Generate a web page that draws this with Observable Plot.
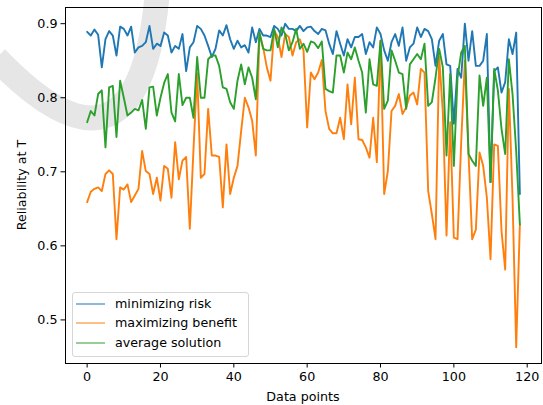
<!DOCTYPE html>
<html>
<head>
<meta charset="utf-8">
<script src="https://cdn.jsdelivr.net/npm/d3@7"></script>
<script src="https://cdn.jsdelivr.net/npm/@observablehq/plot@0.6"></script>
<style>
html, body { margin: 0; padding: 0; background: #fff; }
#wrap { position: relative; width: 543px; height: 405px; overflow: hidden; font-family: "DejaVu Sans", sans-serif; color: #000; background: #fff; }
#chart { position: absolute; left: 0; top: 0; }
.lbl { position: absolute; font-size: 12.7px; white-space: nowrap; line-height: 1; }
#ylabel { left: 22px; top: 185px; transform: translate(-50%, -50%) rotate(-90deg); }
#xlabel { left: 303px; top: 397px; transform: translate(-50%, -50%); }
#legend { position: absolute; left: 72px; top: 292px; width: 177px; height: 65px; border: 1px solid #d6d6d6; border-radius: 3px; background: rgba(255,255,255,0.8); box-sizing: border-box; }
.row { position: absolute; left: 0; height: 0; }
.swatch { position: absolute; left: 3px; width: 29px; height: 0; border-top: 1.9px solid; transform: translateY(-50%); }
.ltext { position: absolute; left: 42px; font-size: 12.7px; white-space: nowrap; transform: translateY(-50%); line-height: 1; }
</style>
</head>
<body>
<div id="wrap">
  <div id="chart"></div>
  <div class="lbl" id="ylabel">Reliability at T</div>
  <div class="lbl" id="xlabel">Data points</div>
  <div id="legend"></div>
</div>
<script>
const seriesNames = ["minimizing risk", "maximizing benefit", "average solution"];
const seriesColors = ["#1f77b4", "#ff7f0e", "#2ca02c"];
const xTicks = [0, 20, 40, 60, 80, 100, 120];
const yTicks = [0.5, 0.6, 0.7, 0.8, 0.9];

const minimizingRisk = [
  0.889, 0.884, 0.892, 0.885, 0.841, 0.879, 0.890, 0.884, 0.857, 0.896,
  0.893, 0.884, 0.896, 0.861, 0.868, 0.870, 0.875, 0.897, 0.866, 0.873,
  0.870, 0.888, 0.884, 0.861, 0.870, 0.866, 0.886, 0.836, 0.868, 0.875,
  0.897, 0.893, 0.884, 0.870, 0.855, 0.866, 0.891, 0.884, 0.898, 0.879,
  0.866, 0.877, 0.868, 0.871, 0.861, 0.895, 0.875, 0.893, 0.884, 0.884,
  0.882, 0.897, 0.893, 0.884, 0.900, 0.893, 0.893, 0.890, 0.897, 0.890,
  0.895, 0.896, 0.890, 0.886, 0.893, 0.891, 0.873, 0.859, 0.890, 0.873,
  0.857, 0.879, 0.868, 0.882, 0.882, 0.886, 0.859, 0.875, 0.868, 0.895,
  0.886, 0.864, 0.850, 0.875, 0.886, 0.870, 0.895, 0.850, 0.868, 0.873,
  0.895, 0.882, 0.893, 0.890, 0.879, 0.843, 0.877, 0.886, 0.845, 0.843,
  0.765, 0.839, 0.827, 0.900, 0.850, 0.890, 0.843, 0.843, 0.850, 0.886,
  0.686, 0.836, 0.841, 0.807, 0.821, 0.879, 0.859, 0.888, 0.670
];

const maximizingBenefit = [
  0.659, 0.673, 0.677, 0.679, 0.674, 0.697, 0.702, 0.697, 0.609, 0.679,
  0.676, 0.683, 0.659, 0.668, 0.677, 0.728, 0.701, 0.697, 0.670, 0.692,
  0.661, 0.708, 0.704, 0.665, 0.740, 0.690, 0.715, 0.720, 0.623, 0.730,
  0.833, 0.692, 0.697, 0.785, 0.722, 0.722, 0.720, 0.652, 0.737, 0.670,
  0.692, 0.708, 0.755, 0.800, 0.787, 0.769, 0.722, 0.886, 0.868, 0.841,
  0.823, 0.891, 0.882, 0.855, 0.886, 0.882, 0.857, 0.875, 0.879, 0.864,
  0.760, 0.834, 0.825, 0.834, 0.851, 0.782, 0.758, 0.752, 0.752, 0.773,
  0.744, 0.818, 0.764, 0.827, 0.744, 0.743, 0.733, 0.719, 0.773, 0.713,
  0.877, 0.670, 0.701, 0.782, 0.789, 0.805, 0.778, 0.787, 0.803, 0.807,
  0.791, 0.839, 0.834, 0.674, 0.643, 0.609, 0.855, 0.780, 0.614, 0.767,
  0.611, 0.609, 0.740, 0.850, 0.724, 0.609, 0.622, 0.726, 0.708, 0.665,
  0.582, 0.737, 0.735, 0.620, 0.568, 0.812, 0.665, 0.463, 0.629
];

const averageSolution = [
  0.767, 0.782, 0.776, 0.805, 0.810, 0.733, 0.814, 0.816, 0.747, 0.823,
  0.800, 0.776, 0.780, 0.785, 0.783, 0.797, 0.758, 0.814, 0.815, 0.776,
  0.800, 0.820, 0.832, 0.780, 0.768, 0.832, 0.790, 0.800, 0.800, 0.773,
  0.855, 0.800, 0.800, 0.852, 0.857, 0.857, 0.843, 0.814, 0.812, 0.794,
  0.785, 0.823, 0.845, 0.818, 0.841, 0.827, 0.798, 0.888, 0.866, 0.864,
  0.864, 0.893, 0.868, 0.895, 0.886, 0.864, 0.875, 0.893, 0.866, 0.873,
  0.862, 0.876, 0.874, 0.867, 0.876, 0.812, 0.809, 0.807, 0.857, 0.857,
  0.834, 0.861, 0.852, 0.868, 0.850, 0.834, 0.780, 0.852, 0.818, 0.816,
  0.877, 0.785, 0.796, 0.864, 0.850, 0.834, 0.832, 0.785, 0.845, 0.852,
  0.859, 0.852, 0.873, 0.789, 0.794, 0.827, 0.866, 0.841, 0.722, 0.832,
  0.708, 0.827, 0.861, 0.870, 0.724, 0.715, 0.708, 0.830, 0.789, 0.827,
  0.686, 0.839, 0.810, 0.758, 0.724, 0.852, 0.805, 0.728, 0.629
];

const seriesValues = [minimizingRisk, maximizingBenefit, averageSolution];

const rows = seriesValues.flatMap((vals, s) =>
  vals.map((v, i) => ({x: i, y: v, series: seriesNames[s]}))
);

// matplotlib-style 5% margins
const xExt = d3.extent(rows, d => d.x);
const yExt = d3.extent(rows, d => d.y);
const xPad = (xExt[1] - xExt[0]) * 0.05;
const yPad = (yExt[1] - yExt[0]) * 0.05;

// faint background swoosh seen behind the reference figure (decoration only)
function watermark() {
  const p = document.createElementNS("http://www.w3.org/2000/svg", "path");
  p.setAttribute("d", "M -4 58 C 70 135, 142 160, 157 -4");
  p.setAttribute("fill", "none");
  p.setAttribute("stroke", "#e6e6e6");
  p.setAttribute("stroke-width", "25");
  return p;
}

const chart = Plot.plot({
  width: 543,
  height: 405,
  marginLeft: 65,
  marginRight: 2,
  marginTop: 7,
  marginBottom: 42,
  style: {background: "transparent", fontFamily: "DejaVu Sans, sans-serif", fontSize: "12.7px", color: "#000", overflow: "visible"},
  x: {domain: [xExt[0] - xPad, xExt[1] + xPad]},
  y: {domain: [yExt[0] - yPad, yExt[1] + yPad]},
  color: {domain: seriesNames, range: seriesColors},
  marks: [
    watermark,
    Plot.axisX({ticks: xTicks, tickSize: 4.5, tickPadding: 4, label: null, fontSize: 12.7}),
    Plot.axisY({ticks: yTicks, tickSize: 4.5, tickPadding: 3.5, tickFormat: d3.format(".1f"), label: null, fontSize: 12.7}),
    ...seriesNames.map(name =>
      Plot.line(rows.filter(d => d.series === name), {x: "x", y: "y", stroke: "series", strokeWidth: 1.9})
    ),
    Plot.frame({stroke: "#000", strokeWidth: 1})
  ]
});
document.getElementById("chart").appendChild(chart);

// legend
const legend = document.getElementById("legend");
const rowTops = [10.5, 30.2, 50];
seriesNames.forEach((name, i) => {
  const r = document.createElement("div");
  r.className = "row";
  r.style.top = rowTops[i] + "px";
  const sw = document.createElement("div");
  sw.className = "swatch";
  sw.style.borderTopColor = seriesColors[i];
  const t = document.createElement("div");
  t.className = "ltext";
  t.textContent = name;
  r.appendChild(sw);
  r.appendChild(t);
  legend.appendChild(r);
});
</script>
</body>
</html>
